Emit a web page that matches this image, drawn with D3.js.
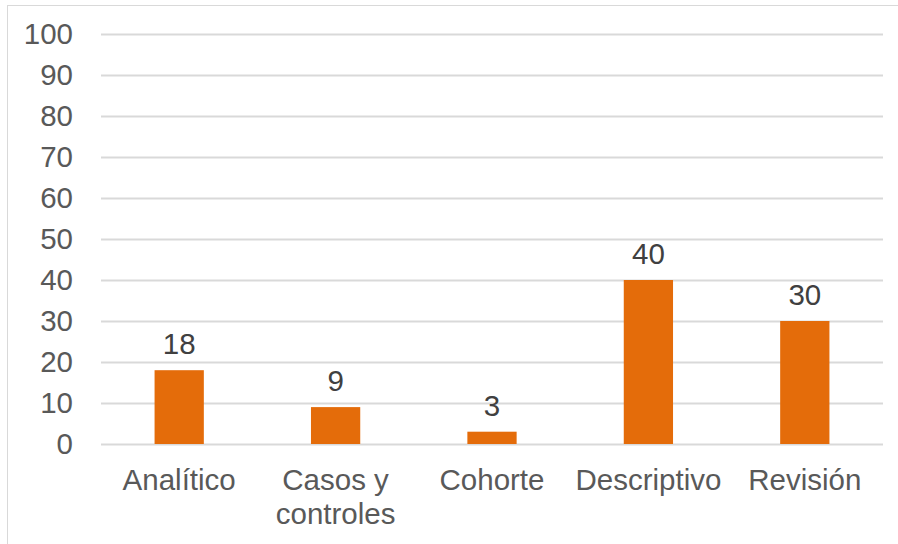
<!DOCTYPE html>
<html><head><meta charset="utf-8">
<script src="https://cdn.jsdelivr.net/npm/d3@7"></script>
<style>body{margin:0;background:#fff}svg{display:block}</style>
</head><body>
<svg id="c" width="898" height="544"></svg>
<script>
const categories = ["Analítico", "Casos y controles", "Cohorte", "Descriptivo", "Revisión"];
const categoryLines = [["Analítico"], ["Casos y", "controles"], ["Cohorte"], ["Descriptivo"], ["Revisión"]];
const values = [18, 9, 3, 40, 30];
const yTicks = [0, 10, 20, 30, 40, 50, 60, 70, 80, 90, 100];

const svg = d3.select("#c");
const m = {left: 101};
const font = "'Liberation Sans', Arial, sans-serif";
const textColor = "#595959";
const fs = "29.5px";

svg.append("rect").attr("x", 7.5).attr("y", 5.5).attr("width", 920).attr("height", 560)
  .attr("fill", "none").attr("stroke", "#d9d9d9").attr("stroke-width", 1);

const x = d3.scaleBand().domain(categories).range([m.left, 883]).paddingInner(0.685).paddingOuter(0.3425);
const y = d3.scaleLinear().domain([0, 100]).range([444, 34]);

const yAxis = d3.axisLeft(y).tickValues(yTicks).tickSize(-(883 - m.left)).tickPadding(28);
const gy = svg.append("g").attr("transform", `translate(${m.left},0)`).call(yAxis);
gy.select(".domain").remove();
gy.selectAll(".tick line").attr("stroke", "#d9d9d9").attr("stroke-width", 2);
gy.selectAll(".tick text").attr("fill", textColor).style("font-family", font).style("font-size", fs);

svg.append("g").selectAll("rect").data(values).join("rect")
  .attr("x", (d, i) => x(categories[i]))
  .attr("width", x.bandwidth())
  .attr("y", d => y(d))
  .attr("height", d => y(0) - y(d))
  .attr("fill", "#e46c0a");

svg.append("g").selectAll("text").data(values).join("text")
  .attr("x", (d, i) => x(categories[i]) + x.bandwidth() / 2)
  .attr("y", d => y(d) - 16)
  .attr("text-anchor", "middle")
  .attr("fill", "#404040")
  .style("font-family", font).style("font-size", fs)
  .text(d => d);

const gx = svg.append("g");
categories.forEach((c, i) => {
  const t = gx.append("text")
    .attr("x", x(c) + x.bandwidth() / 2)
    .attr("y", 490)
    .attr("text-anchor", "middle")
    .attr("fill", textColor)
    .style("font-family", font).style("font-size", fs);
  categoryLines[i].forEach((ln, j) => {
    t.append("tspan").attr("x", x(c) + x.bandwidth() / 2).attr("dy", j === 0 ? 0 : 34).text(ln);
  });
});
</script>
</body></html>
